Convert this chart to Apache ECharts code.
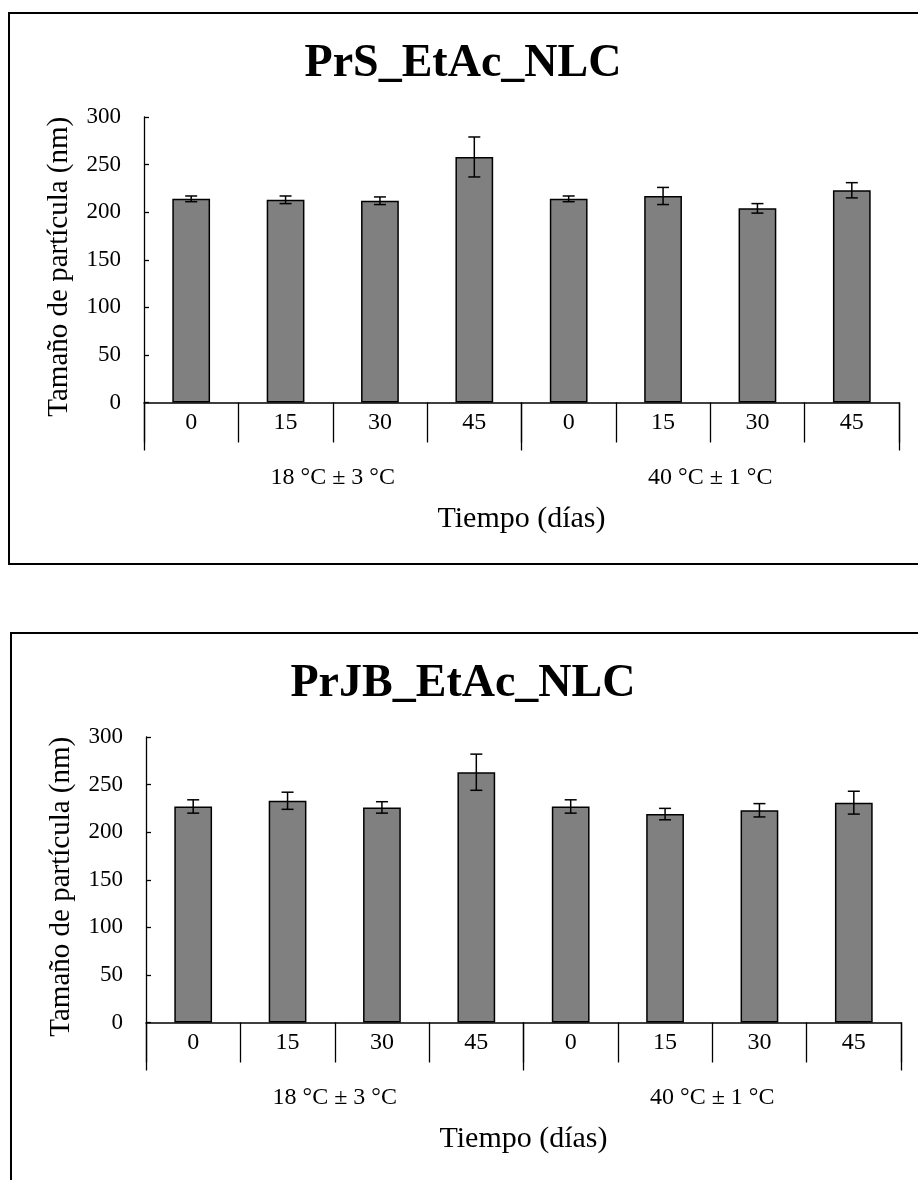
<!DOCTYPE html>
<html>
<head>
<meta charset="utf-8">
<script src="https://cdn.jsdelivr.net/npm/echarts@6/dist/echarts.min.js"></script>
<style>
  html, body { margin: 0; padding: 0; background: #fff; }
  #chart { width: 918px; height: 1180px; }
</style>
</head>
<body>
<div id="chart"></div>
<script>
// Storage-time categories (days) and temperature groups
const timeLabels = ['0', '15', '30', '45', '0', '15', '30', '45'];
const tempGroups = ['18 °C ± 3 °C', '40 °C ± 1 °C'];

// Particle size (nm) with standard deviation, PrS formulation
const prsMean = [214, 213, 212, 258, 214, 217, 204, 223];
const prsErr  = [3, 4, 4, 21, 3, 9, 5, 8];

// Particle size (nm) with standard deviation, PrJB formulation
const prjbMean = [227, 233, 226, 263, 227, 219, 223, 231];
const prjbErr  = [7, 9, 6, 19, 7, 6, 7, 12];

const panelTitles = ['PrS_EtAc_NLC', 'PrJB_EtAc_NLC'];
const yName = 'Tamaño de partícula (nm)';
const xName = 'Tiempo (días)';

const SERIF = '"Liberation Serif", "Times New Roman", serif';
const BLACK = '#000';

const panels = [
  { mean: prsMean, err: prsErr, grid: { left: 144, right: 19, top: 117, height: 285.5 }, titleY: 64, box: { x: 9, y: 13, width: 920, height: 551 } },
  { mean: prjbMean, err: prjbErr, grid: { left: 146, right: 17, top: 737, height: 285.5 }, titleY: 684, box: { x: 11, y: 633, width: 920, height: 600 } }
];

const grids = [], xAxes = [], yAxes = [], series = [], graphics = [];

panels.forEach((p, i) => {
  grids.push(p.grid);

  // first level: days
  xAxes.push({
    type: 'category', gridIndex: i, data: timeLabels, position: 'bottom',
    axisLine: { show: true, onZero: false, lineStyle: { color: BLACK, width: 1.5 } },
    axisTick: { show: true, interval: 0, length: 40, lineStyle: { color: BLACK, width: 1.3 } },
    axisLabel: { interval: 0, margin: 8, fontFamily: SERIF, fontSize: 24, color: BLACK }
  });
  // second level: temperature groups
  xAxes.push({
    type: 'category', gridIndex: i, data: tempGroups, position: 'bottom', offset: 40,
    axisLine: { show: false },
    axisTick: { show: true, interval: 0, length: 48, lineStyle: { color: BLACK, width: 1.3 } },
    axisLabel: { interval: 0, margin: 23, fontFamily: SERIF, fontSize: 24, color: BLACK },
    name: xName, nameLocation: 'middle', nameGap: 62,
    nameTextStyle: { fontFamily: SERIF, fontSize: 30, color: BLACK }
  });

  yAxes.push({
    type: 'value', gridIndex: i, min: 0, max: 300, interval: 50,
    axisLine: { show: true, lineStyle: { color: BLACK, width: 1.3 } },
    axisTick: { show: true, inside: true, length: 5, lineStyle: { color: BLACK, width: 1.3 } },
    splitLine: { show: false },
    axisLabel: { margin: 23, fontFamily: SERIF, fontSize: 23, color: BLACK },
    name: yName, nameLocation: 'middle', nameGap: 70,
    nameTextStyle: { fontFamily: SERIF, fontSize: 29, color: BLACK, padding: [0, 14, 0, 0] }
  });

  series.push({
    type: 'bar', xAxisIndex: 2 * i, yAxisIndex: i,
    data: p.mean, barCategoryGap: '60%',
    itemStyle: { color: '#808080', borderColor: BLACK, borderWidth: 1.5 },
    silent: true
  });

  // error bars: vertical whisker with caps
  series.push({
    type: 'custom', xAxisIndex: 2 * i, yAxisIndex: i,
    data: p.mean.map((m, k) => [k, m, p.err[k]]),
    encode: { x: 0, y: 1 },
    z: 5, silent: true,
    renderItem: (params, api) => {
      const x = api.value(0), m = api.value(1), e = api.value(2);
      const hi = api.coord([x, m + e]);
      const lo = api.coord([x, m - e]);
      const cap = 6;
      const style = { stroke: BLACK, lineWidth: 1.5 };
      return {
        type: 'group',
        children: [
          { type: 'line', shape: { x1: hi[0], y1: hi[1], x2: lo[0], y2: lo[1] }, style },
          { type: 'line', shape: { x1: hi[0] - cap, y1: hi[1], x2: hi[0] + cap, y2: hi[1] }, style },
          { type: 'line', shape: { x1: lo[0] - cap, y1: lo[1], x2: lo[0] + cap, y2: lo[1] }, style }
        ]
      };
    }
  });

  graphics.push({
    type: 'rect', shape: p.box, silent: true,
    style: { fill: 'none', stroke: BLACK, lineWidth: 2 }
  });
  graphics.push({
    type: 'text', x: 463, y: p.titleY, silent: true,
    style: {
      text: panelTitles[i], fill: BLACK,
      font: 'bold 46px ' + SERIF,
      textAlign: 'center', textVerticalAlign: 'middle'
    }
  });
});

const chart = echarts.init(document.getElementById('chart'), null, { renderer: 'canvas' });
chart.setOption({
  backgroundColor: '#fff',
  animation: false,
  grid: grids,
  xAxis: xAxes,
  yAxis: yAxes,
  series: series,
  graphic: graphics
});
</script>
</body>
</html>
